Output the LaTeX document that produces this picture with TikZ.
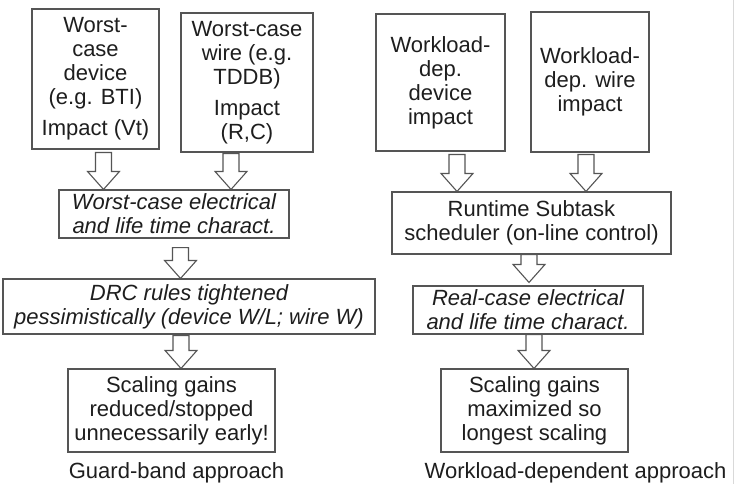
\documentclass[tikz,border=0pt]{standalone}
\usepackage{fontspec}
\setmainfont{Liberation Sans}
\usetikzlibrary{calc}
\definecolor{linec}{HTML}{555555}
\definecolor{textc}{HTML}{1E1E1E}
\begin{document}
\begin{tikzpicture}[x=1pt,y=-1pt,
  box/.style={draw=linec, line width=1.1pt, inner sep=0pt, align=center, text=textc,
    font=\fontsize{22}{24}\selectfont},
  ibox/.style={box, font=\fontsize{22}{24}\selectfont\itshape},
  lbl/.style={text=textc, font=\fontsize{22}{24}\selectfont, inner sep=0pt, anchor=base},
  blockarr/.style={draw=linec, line width=1.1pt, to path={
    let \p1=(\tikztostart), \p2=(\tikztotarget) in
    (\x1-8pt,\y1) -- (\x1-8pt,\y2+18pt) -- (\x1-16pt,\y2+18pt) -- (\x1,\y2)
    -- (\x1+16pt,\y2+18pt) -- (\x1+8pt,\y2+18pt) -- (\x1+8pt,\y1) -- cycle}}
]
\useasboundingbox (0,0) rectangle (747,484);
\fill[white] (0,0) rectangle (747,484);
\draw[black!15, line width=1pt] (733,0) -- (733,484);

% left column
\node[box, minimum width=127pt, minimum height=140pt] (A) at (95.5,79)
  {Worst-\\case\\device\\(e.g. BTI)\\[7pt]Impact (Vt)};
\node[box, minimum width=132pt, minimum height=139pt] (B) at (247,82.5)
  {Worst-case\\wire (e.g.\\TDDB)\\[7pt]Impact\\(R,C)};
\node[ibox, minimum width=230pt, minimum height=48pt] (E) at (174,214)
  {Worst-case electrical\\and life time charact.};
\node[ibox, minimum width=372pt, minimum height=55pt] (F) at (189,306.5)
  {DRC rules tightened\\pessimistically (device W/L; wire W)};
\node[box, minimum width=207pt, minimum height=83pt] (G) at (171.5,410.5)
  {Scaling gains\\reduced/stopped\\unnecessarily early!};
\node[lbl] (GL) at (176.5,478) {Guard-band approach};

% right column
\node[box, minimum width=129pt, minimum height=137pt] (C) at (440.5,82.5)
  {Workload-\\dep.\\device\\impact};
\node[box, minimum width=118pt, minimum height=140pt] (D) at (590,82)
  {Workload-\\dep. wire\\impact};
\node[box, minimum width=279pt, minimum height=62pt] (H) at (531.5,223)
  {Runtime Subtask\\scheduler (on-line control)};
\node[ibox, minimum width=230pt, minimum height=48pt] (I) at (528,310)
  {Real-case electrical\\and life time charact.};
\node[box, minimum width=187pt, minimum height=83pt] (J) at (534.5,410.5)
  {Scaling gains\\maximized so\\longest scaling};
\node[lbl] (JL) at (575.5,478) {Workload-dependent approach};

% block arrows
\draw[blockarr] ([shift={(8,3)}]A.south) to (E.north);
\draw[blockarr] ([shift={(-16,1)}]B.south) to (E.north);
\draw[blockarr] ([shift={(6.5,9)}]E.south) to (F.north);
\draw[blockarr] ([shift={(-8,1)}]F.south) to (G.north);
\draw[blockarr] ([shift={(16.5,3)}]C.south) to (H.north);
\draw[blockarr] ([shift={(-4,2)}]D.south) to (H.north);
\draw[blockarr] ([shift={(-2.5,0)}]H.south) to ([yshift=3pt]I.north);
\draw[blockarr] ([shift={(6,0)}]I.south) to (J.north);
\end{tikzpicture}
\end{document}
